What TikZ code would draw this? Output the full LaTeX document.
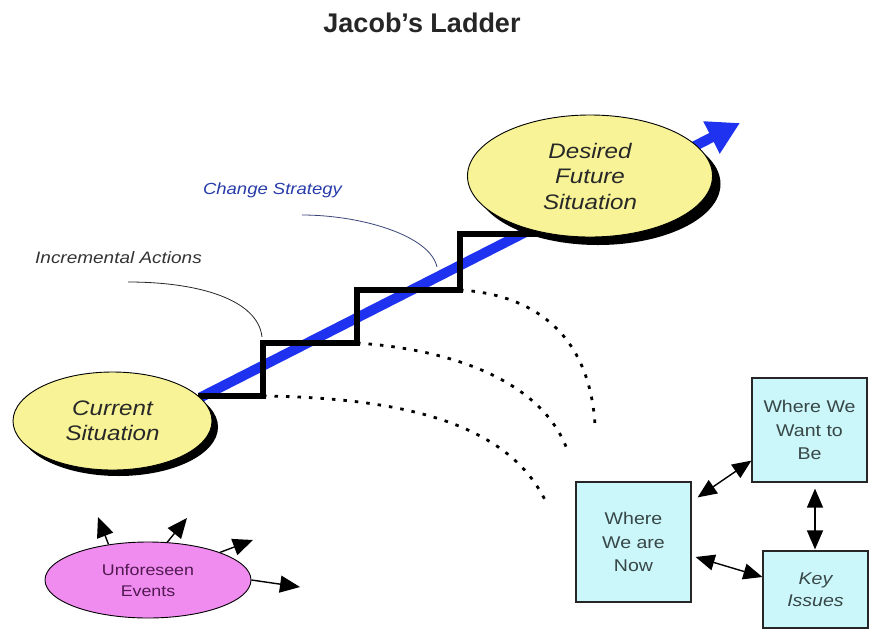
\documentclass[tikz,border=0pt]{standalone}
\usepackage{fontspec}
\setmainfont{Liberation Sans}
\newfontfamily\wf[FakeStretch=1.15]{Liberation Sans}
\usetikzlibrary{shapes.geometric,arrows.meta,calc,shadows}
\definecolor{ellc}{RGB}{247,243,150}
\definecolor{boxc}{RGB}{204,247,250}
\definecolor{pinkc}{RGB}{240,140,240}
\definecolor{bluec}{RGB}{30,50,240}
\definecolor{csblue}{RGB}{40,60,170}
\definecolor{cslead}{RGB}{60,70,120}
\definecolor{txt}{RGB}{40,40,40}
\definecolor{boxtxt}{RGB}{55,70,70}
\definecolor{ptxt}{RGB}{80,25,80}
\pgfdeclarelayer{bg}
\pgfdeclarelayer{paper}
\pgfsetlayers{paper,bg,main}
\begin{document}
\begin{tikzpicture}[x=1pt,y=-1pt,
  sitell/.style={ellipse, draw=black, line width=0.9pt, fill=ellc, inner sep=0pt, align=center,
    font=\wf\itshape\fontsize{21}{25.5}\selectfont, text=txt},
  shad/.style={drop shadow={shadow xshift=#1, shadow yshift=-#1, fill=black, opacity=1}},
  pinkell/.style={ellipse, draw=black, line width=0.9pt, fill=pinkc, inner sep=0pt, align=center,
    font=\wf\fontsize{15.5}{21}\selectfont, text=ptxt},
  boxn/.style={rectangle, draw=black!85, line width=1.2pt, fill=boxc, inner sep=0pt, align=center,
    font=\wf\fontsize{17}{23.5}\selectfont, text=boxtxt},
  stair/.style={line width=5.5pt, black, line join=miter, line cap=rect},
  bluearrow/.style={bluec, line width=10pt, -{Triangle[length=32pt,width=34pt]}},
  dots/.style={line width=2.8pt, black, dash pattern=on 3.5pt off 8pt},
  leader/.style={line width=0.8pt, draw=#1},
  uarr/.style={line width=1.4pt, black, -{Triangle[length=20pt,width=17pt]}},
  barr/.style={line width=1.4pt, black, {Triangle[length=19pt,width=16pt]}-{Triangle[length=19pt,width=16pt]}},
  lbl/.style={anchor=base, inner sep=0pt}
]
\begin{pgfonlayer}{paper}
  \fill[white] (0,0) rectangle (871,630);
\end{pgfonlayer}
\useasboundingbox (0,0) rectangle (871,630);

% title and labels
\node[lbl, font=\bfseries\fontsize{27}{30}\selectfont, text=black!85] (title) at (422,32) {Jacob's Ladder};
\node[lbl, font=\wf\itshape\fontsize{16.5}{20}\selectfont, text=black!80] (inc) at (118.5,263) {Incremental Actions};
\node[lbl, font=\wf\itshape\fontsize{16.1}{20}\selectfont, text=csblue] (chg) at (272.5,194) {Change Strategy};

% ellipses
\node[sitell, minimum width=199pt, minimum height=98pt, shad=6pt] (cur) at (112.5,421) {Current\\Situation};
\node[sitell, minimum width=245pt, minimum height=122pt, shad=8pt] (des) at (590,176) {Desired\\Future\\Situation};
\node[pinkell, minimum width=206pt, minimum height=76pt] (ue) at (148,580) {Unforeseen\\Events};

% boxes
\node[boxn, minimum width=115pt, minimum height=104pt] (want) at (809.5,430) {Where We\\Want to\\Be};
\node[boxn, minimum width=115pt, minimum height=120pt] (now) at (633.5,542) {Where\\We are\\Now};
\node[boxn, minimum width=105pt, minimum height=77pt, font=\wf\itshape\fontsize{17}{22}\selectfont] (key) at (815.5,589.5) {Key\\Issues};

% coordinates
\coordinate (tipb) at (740,123);
\coordinate (s1) at (263,396);
\coordinate (s2) at (263,343);
\coordinate (s3) at (357,343);
\coordinate (s4) at (357,290);
\coordinate (s5) at (460,290);
\coordinate (s6) at (460,234);
\coordinate (e1) at (545,500);
\coordinate (e2) at (568,452);
\coordinate (e3) at (595,425);
\coordinate (la) at (128,282);
\coordinate (lb) at (262,337);
\coordinate (ca) at (302,215);
\coordinate (cb) at (437,267);
\coordinate (u1) at (98,517);
\coordinate (u2) at (187,518);
\coordinate (u3) at (253,540);
\coordinate (u4) at (300,587);

\begin{pgfonlayer}{bg}
  \draw[bluearrow] (cur.15) -- (tipb);
  \draw[stair] (cur.15 |- s1) -- (s1) -- (s2) -- (s3) -- (s4) -- (s5) -- (s6) -- (des.228 |- s6);
\end{pgfonlayer}

% dotted arcs
\draw[dots] (s1) .. controls (420,398) and (510,430) .. (e1);
\draw[dots] (s3) .. controls (460,350) and (545,385) .. (e2);
\draw[dots] (s5) .. controls (540,295) and (590,340) .. (e3);

% leaders
\draw[leader=black!85] (la) .. controls (200,282) and (258,300) .. (lb);
\draw[leader=cslead] (ca) .. controls (360,215) and (430,235) .. (cb);

% unforeseen arrows
\draw[uarr] (ue.138) -- (u1);
\draw[uarr] (ue.63) -- (u2);
\draw[uarr] (ue.21) -- (u3);
\draw[uarr] (ue.east) -- (u4);

% box arrows
\draw[barr] ($(now.north east)+(6,16)$) -- ($(want.south west)+(0,-22)$);
\draw[barr] ($(want.south)+(5.5,6)$) -- ($(key.north)+(-0.5,-1)$);
\draw[barr] ($(now.east)+(4,15)$) -- ($(key.west)+(0,-12.5)$);
\end{tikzpicture}
\end{document}
